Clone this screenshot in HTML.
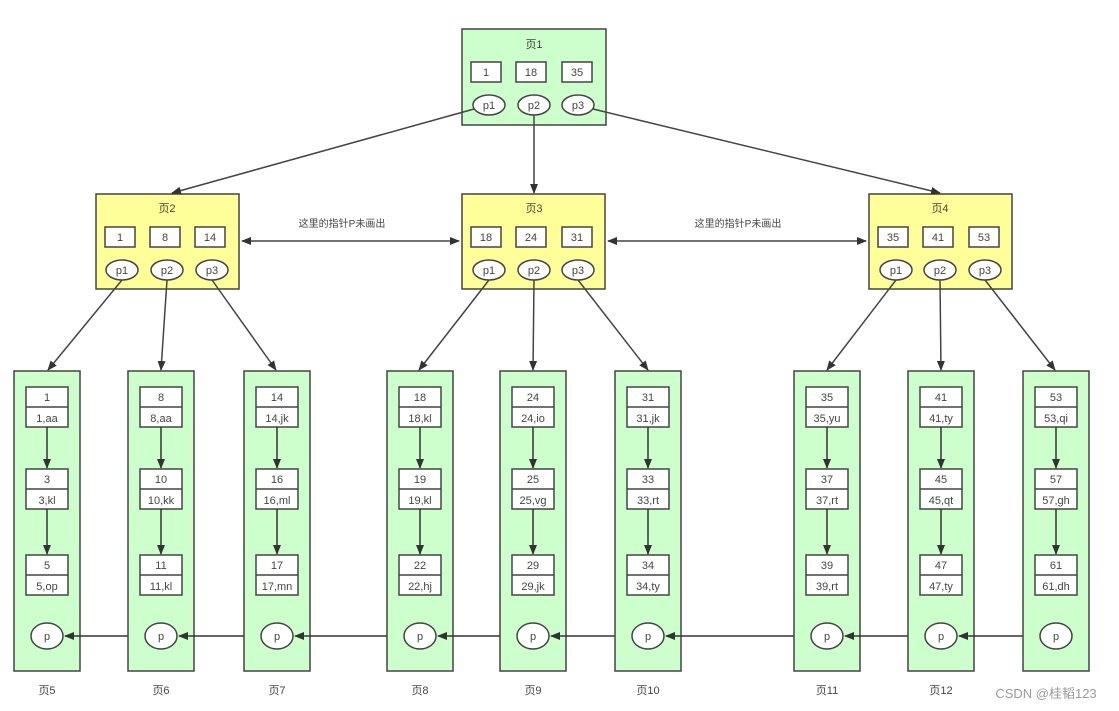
<!DOCTYPE html><html><head><meta charset="utf-8"><style>body{margin:0;background:#fff}svg{display:block}text{font-family:"Liberation Sans","Noto Sans CJK SC",sans-serif;font-size:11px;fill:#444;text-anchor:middle}</style></head><body>
<svg width="1119" height="711" viewBox="0 0 1119 711" xmlns="http://www.w3.org/2000/svg">
<defs><marker id="a" markerWidth="10" markerHeight="8" refX="9" refY="4" orient="auto" markerUnits="userSpaceOnUse"><path d="M0,0 L10,4 L0,8 z" fill="#333"/></marker>
<marker id="b" markerWidth="10" markerHeight="8" refX="1" refY="4" orient="auto" markerUnits="userSpaceOnUse"><path d="M10,0 L0,4 L10,8 z" fill="#333"/></marker></defs>
<g stroke="#444" stroke-width="1.5">
<!-- top -->
<rect x="462" y="29" width="144" height="96" fill="#ccffcc"/>
<rect x="471" y="62" width="30" height="20" fill="#fff"/><rect x="516" y="62" width="30" height="20" fill="#fff"/><rect x="562" y="62" width="30" height="20" fill="#fff"/>
<ellipse cx="489" cy="105" rx="16" ry="10" fill="#fff"/><ellipse cx="534" cy="105" rx="16" ry="10" fill="#fff"/><ellipse cx="578" cy="105" rx="16" ry="10" fill="#fff"/>
<!-- mid -->
<rect x="96" y="194" width="143" height="95" fill="#ffff99"/>
<rect x="462" y="194" width="143" height="95" fill="#ffff99"/>
<rect x="869" y="194" width="143" height="95" fill="#ffff99"/>
<rect x="105" y="227" width="30" height="20" fill="#fff"/><rect x="150" y="227" width="30" height="20" fill="#fff"/><rect x="195" y="227" width="30" height="20" fill="#fff"/>
<rect x="471" y="227" width="30" height="20" fill="#fff"/><rect x="516" y="227" width="30" height="20" fill="#fff"/><rect x="562" y="227" width="30" height="20" fill="#fff"/>
<rect x="878" y="227" width="30" height="20" fill="#fff"/><rect x="923" y="227" width="30" height="20" fill="#fff"/><rect x="969" y="227" width="30" height="20" fill="#fff"/>
<ellipse cx="122" cy="270" rx="16" ry="10" fill="#fff"/><ellipse cx="167" cy="270" rx="16" ry="10" fill="#fff"/><ellipse cx="212" cy="270" rx="16" ry="10" fill="#fff"/>
<ellipse cx="489" cy="270" rx="16" ry="10" fill="#fff"/><ellipse cx="534" cy="270" rx="16" ry="10" fill="#fff"/><ellipse cx="578" cy="270" rx="16" ry="10" fill="#fff"/>
<ellipse cx="896" cy="270" rx="16" ry="10" fill="#fff"/><ellipse cx="940" cy="270" rx="16" ry="10" fill="#fff"/><ellipse cx="985" cy="270" rx="16" ry="10" fill="#fff"/>
<!-- top arrows -->
<line x1="474" y1="109" x2="172" y2="193" marker-end="url(#a)"/>
<line x1="534" y1="115" x2="534" y2="193" marker-end="url(#a)"/>
<line x1="593" y1="109" x2="940" y2="193" marker-end="url(#a)"/>
<line x1="242" y1="241" x2="459" y2="241" marker-start="url(#b)" marker-end="url(#a)"/>
<line x1="608" y1="241" x2="866" y2="241" marker-start="url(#b)" marker-end="url(#a)"/>
<!-- mid to leaf arrows -->
<line x1="122" y1="280" x2="48" y2="370" marker-end="url(#a)"/>
<line x1="167" y1="280" x2="161" y2="370" marker-end="url(#a)"/>
<line x1="212" y1="280" x2="276" y2="370" marker-end="url(#a)"/>
<line x1="489" y1="280" x2="419" y2="370" marker-end="url(#a)"/>
<line x1="534" y1="280" x2="533" y2="370" marker-end="url(#a)"/>
<line x1="578" y1="280" x2="648" y2="370" marker-end="url(#a)"/>
<line x1="896" y1="280" x2="827" y2="370" marker-end="url(#a)"/>
<line x1="940" y1="280" x2="941" y2="370" marker-end="url(#a)"/>
<line x1="985" y1="280" x2="1055" y2="370" marker-end="url(#a)"/>
</g>
<text x="534" y="48">页1</text><text x="486" y="76">1</text><text x="531" y="76">18</text><text x="577" y="76">35</text>
<text x="489" y="109">p1</text><text x="534" y="109">p2</text><text x="578" y="109">p3</text>
<text x="167" y="212">页2</text><text x="534" y="212">页3</text><text x="940" y="212">页4</text>
<text x="120" y="241">1</text><text x="165" y="241">8</text><text x="210" y="241">14</text>
<text x="486" y="241">18</text><text x="531" y="241">24</text><text x="577" y="241">31</text>
<text x="893" y="241">35</text><text x="938" y="241">41</text><text x="984" y="241">53</text>
<text x="122" y="274">p1</text><text x="167" y="274">p2</text><text x="212" y="274">p3</text>
<text x="489" y="274">p1</text><text x="534" y="274">p2</text><text x="578" y="274">p3</text>
<text x="896" y="274">p1</text><text x="940" y="274">p2</text><text x="985" y="274">p3</text>
<text x="342" y="227" style="font-size:10px">这里的指针P未画出</text>
<text x="738" y="227" style="font-size:10px">这里的指针P未画出</text>
<g id="leaves"></g>
<text x="1046" y="698" style="font-size:13px;fill:#999">CSDN @桂韬123</text>
</svg>
<script>
var cols=[[14,"页5",[["1","1,aa"],["3","3,kl"],["5","5,op"]]],[128,"页6",[["8","8,aa"],["10","10,kk"],["11","11,kl"]]],[244,"页7",[["14","14,jk"],["16","16,ml"],["17","17,mn"]]],[387,"页8",[["18","18,kl"],["19","19,kl"],["22","22,hj"]]],[500,"页9",[["24","24,io"],["25","25,vg"],["29","29,jk"]]],[615,"页10",[["31","31,jk"],["33","33,rt"],["34","34,ty"]]],[794,"页11",[["35","35,yu"],["37","37,rt"],["39","39,rt"]]],[908,"页12",[["41","41,ty"],["45","45,qt"],["47","47,ty"]]],[1023,"页13",[["53","53,qi"],["57","57,gh"],["61","61,dh"]]]];
var s='',ys=[387,469,555];
cols.forEach(function(c,i){var x=c[0],cx=x+33;
s+='<rect x="'+x+'" y="371" width="66" height="300" fill="#ccffcc" stroke="#444" stroke-width="1.5"/>';
ys.forEach(function(y,j){s+='<rect x="'+(x+12)+'" y="'+y+'" width="42" height="40" fill="#fff" stroke="#444" stroke-width="1.5"/><line x1="'+(x+12)+'" y1="'+(y+20)+'" x2="'+(x+54)+'" y2="'+(y+20)+'" stroke="#444" stroke-width="1.5"/>';
s+='<text x="'+cx+'" y="'+(y+14)+'">'+c[2][j][0]+'</text><text x="'+cx+'" y="'+(y+35)+'">'+c[2][j][1]+'</text>';
if(j<2)s+='<line x1="'+cx+'" y1="'+(y+40)+'" x2="'+cx+'" y2="'+(ys[j+1]-1)+'" stroke="#333" stroke-width="1.5" marker-end="url(#a)"/>';});
s+='<ellipse cx="'+cx+'" cy="636" rx="16" ry="13" fill="#fff" stroke="#444" stroke-width="1.5"/><text x="'+cx+'" y="640">p</text>';
if(c[1]!="页13")s+='<text x="'+cx+'" y="694">'+c[1]+'</text>';
if(i<8){var nx=cols[i+1][0]+33;s+='<line x1="'+(cx+18)+'" y1="636" x2="'+(nx-18)+'" y2="636" stroke="#333" stroke-width="1.5" marker-start="url(#b)" marker-end="url(#a)"/>';}
});
document.getElementById('leaves').innerHTML=s;
</script>
</body></html>
